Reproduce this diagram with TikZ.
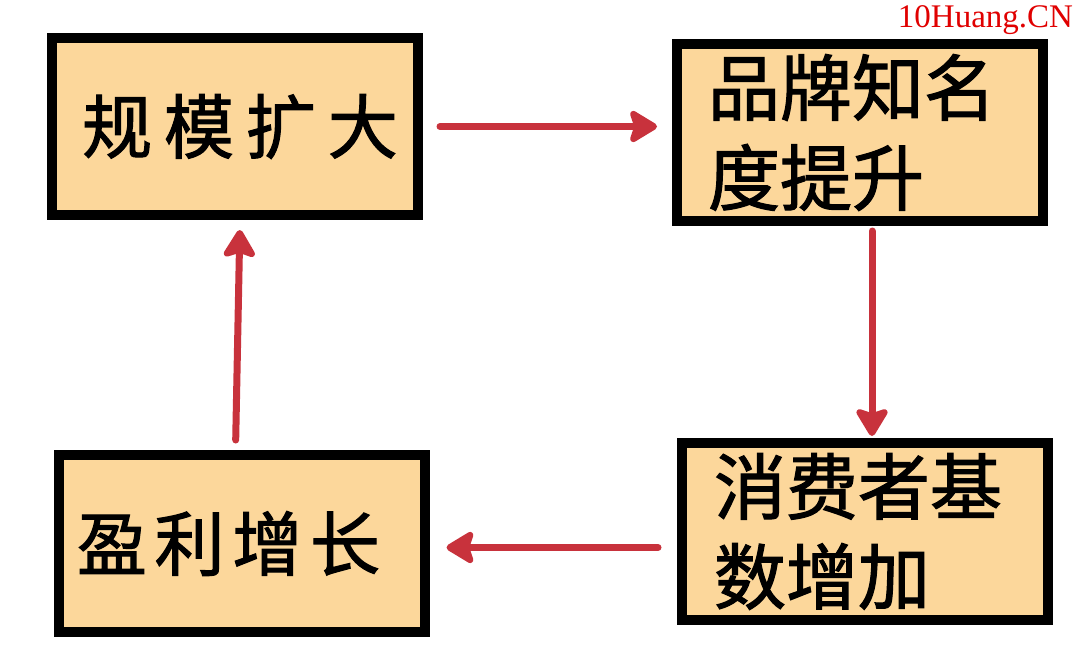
\documentclass[tikz,border=0pt]{standalone}
\usepackage{fontspec}
\usetikzlibrary{arrows.meta}
\newfontfamily\cjk[FakeBold=1.6]{Noto Sans CJK SC}
\newfontfamily\cjkwide[FakeBold=1.6, LetterSpace=17]{Noto Sans CJK SC}
\newfontfamily\cjkmid[FakeBold=1.6, LetterSpace=11]{Noto Sans CJK SC}
\newfontfamily\wmfont{Liberation Serif}
\definecolor{boxfill}{HTML}{FCD79B}
\definecolor{arrowred}{HTML}{C8323C}
\definecolor{wmred}{HTML}{E00000}

\begin{document}
\begin{tikzpicture}[x=1pt, y=-1pt, >={Stealth[length=32pt, width=38pt, inset=6pt, round]},
    every node/.style={rectangle, draw=black, line width=10pt, fill=boxfill, minimum width=366pt, minimum height=177pt, inner sep=0pt, align=left, font=\cjk\fontsize{72}{90}\selectfont},
    link/.style={->, draw=arrowred, line width=7pt, line cap=round}]

            \useasboundingbox (0,0) rectangle (1080,664);

            % Nodes
            \node[font=\cjkwide\fontsize{70}{90}\selectfont] (1) at (235,126.5) {\kern10pt规模扩大};
            \node (2) at (860,132.5) {品牌知名\kern16pt\\度提升};
            \node (3) at (865,531.5) {消费者基\kern14pt\\数增加};
            \node[font=\cjkmid\fontsize{70}{90}\selectfont] (4) at (241.5,543.5) {盈利增长\kern26pt};

            % Watermark
            \node[draw=none, fill=none, minimum width=0pt, minimum height=0pt, text=wmred, anchor=base east, font=\wmfont\fontsize{33}{33}\selectfont] (wm) at (1078,27) {10Huang.CN};

            % Cycle
            \draw[link, shorten <=17pt, shorten >=15pt] (1.east) -- (1.east -| 2.west);
            \draw[link, shorten <=5pt, shorten >=2pt] ([xshift=12pt]2.south) -- ([xshift=12pt]2.south |- 3.north);
            \draw[link, shorten <=19pt, shorten >=17pt] ([yshift=-16pt]3.west) -- ([yshift=-16pt]3.west -| 4.east);
            \draw[link, shorten <=10pt, shorten >=10pt] ([xshift=-6pt]4.north) -- ([xshift=5pt]1.south);

          \end{tikzpicture}
\end{document}
